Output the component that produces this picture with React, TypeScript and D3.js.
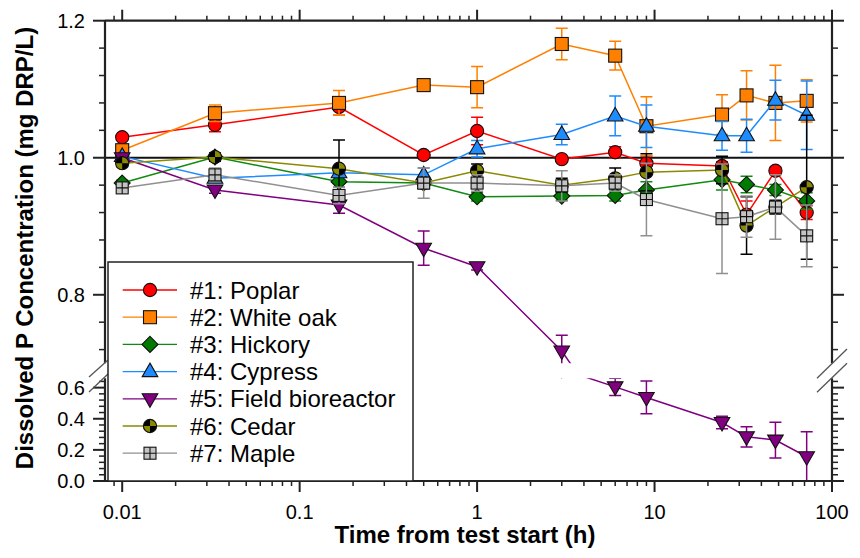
import React from 'react';
import * as d3 from 'd3';

// sampling times (h)
const times = [0.01, 1 / 30, 1 / 6, 0.5, 1, 3, 6, 9, 24, 33, 48, 72];

// mean concentrations (mg DRP/L) and error bars
const poplar = [1.03, 1.048, 1.074, 1.004, 1.039, 0.998, 1.008, 0.992, 0.988, 0.917, 0.981, 0.92];
const poplarErr = [0.004, 0.01, 0.012, 0.004, 0.02, 0.003, 0.008, 0.01, 0.006, 0.02, 0.005, 0.01];
const whiteOak = [1.011, 1.065, 1.08, 1.106, 1.103, 1.166, 1.149, 1.046, 1.063, 1.091, 1.08, 1.083];
const whiteOakErr = [0.004, 0.012, 0.018, 0.008, 0.03, 0.023, 0.021, 0.043, 0.029, 0.036, 0.055, 0.031];
const hickory = [0.963, 1.001, 0.965, 0.963, 0.943, 0.944, 0.945, 0.953, 0.968, 0.961, 0.953, 0.937];
const hickoryErr = [0.004, 0.006, 0.008, 0.008, 0.006, 0.006, 0.008, 0.012, 0.015, 0.012, 0.008, 0.012];
const cypress = [1.002, 0.97, 0.978, 0.975, 1.013, 1.034, 1.061, 1.046, 1.032, 1.032, 1.084, 1.062];
const cypressErr = [0.003, 0.005, 0.006, 0.01, 0.012, 0.015, 0.029, 0.031, 0.021, 0.024, 0.029, 0.05];
const fieldBio = [1.0, 0.953, 0.931, 0.868, 0.841, 0.718, 0.605, 0.537, 0.376, 0.284, 0.263, 0.156];
const fieldBioErr = [0.003, 0.005, 0.012, 0.025, 0.005, 0.023, 0.055, 0.105, 0.04, 0.065, 0.115, 0.16];
const cedar = [0.992, 1.001, 0.984, 0.963, 0.981, 0.96, 0.97, 0.979, 0.982, 0.901, 0.928, 0.957];
const cedarErr = [0.005, 0.006, 0.042, 0.008, 0.01, 0.01, 0.015, 0.027, 0.02, 0.042, 0.01, 0.105];
const maple = [0.956, 0.975, 0.945, 0.963, 0.963, 0.959, 0.963, 0.939, 0.911, 0.914, 0.928, 0.886];
const mapleErr = [0.004, 0.01, 0.012, 0.022, 0.012, 0.022, 0.012, 0.053, 0.08, 0.03, 0.047, 0.045];

const seriesNames = [
  '#1: Poplar',
  '#2: White oak',
  '#3: Hickory',
  '#4: Cypress',
  '#5: Field bioreactor',
  '#6: Cedar',
  '#7: Maple',
];

// axis ticks
const xMajor = [0.01, 0.1, 1, 10, 100];
const xLabels = ['0.01', '0.1', '1', '10', '100'];
const upperMajor = [0.8, 1.0, 1.2];
const upperLabels = ['0.8', '1.0', '1.2'];
const lowerMajor = [0, 0.2, 0.4, 0.6];
const lowerLabels = ['0.0', '0.2', '0.4', '0.6'];

const FONT = '"Liberation Sans", Arial, Helvetica, sans-serif';
const AXIS = '#222';

const series = [
  { name: seriesNames[0], values: poplar, errors: poplarErr, color: '#ff0000', errColor: '#ff0000', fill: '#ff0000', marker: 'circle' },
  { name: seriesNames[1], values: whiteOak, errors: whiteOakErr, color: '#ff8000', errColor: '#ff8000', fill: '#ff8000', marker: 'square' },
  { name: seriesNames[2], values: hickory, errors: hickoryErr, color: '#108a10', errColor: '#108a10', fill: '#007a00', marker: 'diamond' },
  { name: seriesNames[3], values: cypress, errors: cypressErr, color: '#1e8cff', errColor: '#1e8cff', fill: '#1e8cff', marker: 'triUp' },
  { name: seriesNames[4], values: fieldBio, errors: fieldBioErr, color: '#800080', errColor: '#800080', fill: '#800080', marker: 'triDown' },
  { name: seriesNames[5], values: cedar, errors: cedarErr, color: '#8a8a00', errColor: '#000000', fill: '#8a8a00', marker: 'quarter' },
  { name: seriesNames[6], values: maple, errors: mapleErr, color: '#909090', errColor: '#909090', fill: '#c4c4c4', marker: 'grid' },
];

// plot geometry
const left = 105;
const right = 832;
const top = 20.7;
const upperBottom = 363.3;
const lowerTop = 378.3;
const bottom = 481;

const x = d3.scaleLog().domain([0.008, 100]).range([left, right]);
const yUpper = d3.scaleLinear().domain([0.7, 1.2]).range([upperBottom, top]);
const yLower = d3.scaleLinear().domain([0, 0.66]).range([bottom, lowerTop]);

const xMinor = [0.009]
  .concat(...[0.01, 0.1, 1, 10].map((d) => d3.range(2, 10).map((k) => +(k * d).toPrecision(3))));
const upperMinor = d3.range(0.72, 1.2, 0.04).filter((v) => !upperMajor.some((m) => Math.abs(m - v) < 1e-6));
const lowerMinor = d3.range(0.04, 0.66, 0.04).filter((v) => !lowerMajor.some((m) => Math.abs(m - v) < 1e-6));

function Marker({ type, cx, cy, fill }) {
  const st = { stroke: '#111', strokeWidth: 1.1 };
  if (type === 'circle') return <circle cx={cx} cy={cy} r={6.6} fill={fill} {...st} />;
  if (type === 'square') return <rect x={cx - 6.5} y={cy - 6.5} width={13} height={13} fill={fill} {...st} />;
  if (type === 'diamond')
    return <path d={`M${cx},${cy - 8}L${cx + 8},${cy}L${cx},${cy + 8}L${cx - 8},${cy}Z`} fill={fill} {...st} />;
  if (type === 'triUp')
    return <path d={`M${cx},${cy - 8.5}L${cx + 7.8},${cy + 5}L${cx - 7.8},${cy + 5}Z`} fill={fill} {...st} />;
  if (type === 'triDown')
    return <path d={`M${cx},${cy + 8.5}L${cx + 7.8},${cy - 5}L${cx - 7.8},${cy - 5}Z`} fill={fill} {...st} />;
  if (type === 'quarter') {
    const r = 6.6;
    return (
      <g>
        <circle cx={cx} cy={cy} r={r} fill="#000" />
        <path d={`M${cx},${cy}L${cx + r},${cy}A${r},${r} 0 0 0 ${cx},${cy - r}Z`} fill={fill} />
        <path d={`M${cx},${cy}L${cx - r},${cy}A${r},${r} 0 0 0 ${cx},${cy + r}Z`} fill={fill} />
        <circle cx={cx} cy={cy} r={r} fill="none" {...st} />
      </g>
    );
  }
  // grid square (maple)
  return (
    <g>
      <rect x={cx - 6} y={cy - 6} width={12} height={12} fill={fill} {...st} />
      <path d={`M${cx},${cy - 6}V${cy + 6}M${cx - 6},${cy}H${cx + 6}`} stroke="#111" strokeWidth={1.1} />
    </g>
  );
}

function Panel({ y, clip }) {
  const line = d3
    .line()
    .x((_, i) => x(times[i]))
    .y((v) => y(v));
  return (
    <g clipPath={`url(#${clip})`}>
      {series.map((s, si) => (
        <g key={si}>
          <path d={line(s.values)} fill="none" stroke={s.color} strokeWidth={1.5} />
          {s.values.map((v, i) => {
            const cx = x(times[i]);
            const y0 = y(v - s.errors[i]);
            const y1 = y(v + s.errors[i]);
            return (
              <path
                key={i}
                d={`M${cx},${y0}V${y1}M${cx - 6},${y0}H${cx + 6}M${cx - 6},${y1}H${cx + 6}`}
                stroke={s.errColor}
                strokeWidth={1.5}
                fill="none"
              />
            );
          })}
          {s.values.map((v, i) => (
            <Marker key={i} type={s.marker} cx={x(times[i])} cy={y(v)} fill={s.fill} />
          ))}
        </g>
      ))}
    </g>
  );
}

function YTicks({ y, major, labels, minor }) {
  return (
    <g>
      {major.map((v, i) => (
        <g key={`M${i}`}>
          <line x1={left - 12} x2={left} y1={y(v)} y2={y(v)} stroke={AXIS} strokeWidth={2} />
          <line x1={right} x2={right + 12} y1={y(v)} y2={y(v)} stroke={AXIS} strokeWidth={2} />
          <text x={left - 20} y={y(v) + 7} textAnchor="end" fontSize={20}>
            {labels[i]}
          </text>
        </g>
      ))}
      {minor.map((v, i) => (
        <g key={`m${i}`}>
          <line x1={left - 6} x2={left} y1={y(v)} y2={y(v)} stroke={AXIS} strokeWidth={1.5} />
          <line x1={right} x2={right + 6} y1={y(v)} y2={y(v)} stroke={AXIS} strokeWidth={1.5} />
        </g>
      ))}
    </g>
  );
}

export default function App() {
  const legendX = 108;
  const legendY = 262;
  const rowY = (i) => 290 + i * 27.2;
  return (
    <svg
      width={860}
      height={558}
      style={{ position: 'absolute', left: 0, top: 0, background: '#fff' }}
      fontFamily={FONT}
    >
      <defs>
        <clipPath id="clip-upper">
          <rect x={left} y={top} width={right - left} height={upperBottom - top} />
        </clipPath>
        <clipPath id="clip-lower">
          <rect x={left} y={lowerTop} width={right - left} height={bottom - lowerTop} />
        </clipPath>
      </defs>
      <rect width={860} height={558} fill="#fff" />

      {/* reference line at 1.0 */}
      <line x1={left} x2={right} y1={yUpper(1)} y2={yUpper(1)} stroke="#111" strokeWidth={2} />

      <Panel y={yUpper} clip="clip-upper" />
      <Panel y={yLower} clip="clip-lower" />

      {/* frame */}
      <g stroke={AXIS} strokeWidth={2.2} fill="none">
        <line x1={left} x2={right} y1={top} y2={top} />
        <line x1={left} x2={right} y1={bottom} y2={bottom} />
        <line x1={left} x2={left} y1={top} y2={upperBottom} />
        <line x1={left} x2={left} y1={lowerTop} y2={bottom} />
        <line x1={right} x2={right} y1={top} y2={upperBottom} />
        <line x1={right} x2={right} y1={lowerTop} y2={bottom} />
      </g>

      {/* x ticks, top and bottom */}
      {xMajor.map((v, i) => (
        <g key={`xM${i}`}>
          <line x1={x(v)} x2={x(v)} y1={bottom} y2={bottom + 11} stroke={AXIS} strokeWidth={2} />
          <line x1={x(v)} x2={x(v)} y1={top} y2={top - 11} stroke={AXIS} strokeWidth={2} />
          <text x={x(v)} y={519} textAnchor="middle" fontSize={20}>
            {xLabels[i]}
          </text>
        </g>
      ))}
      {xMinor.map((v, i) => (
        <g key={`xm${i}`}>
          <line x1={x(v)} x2={x(v)} y1={bottom} y2={bottom + 5} stroke={AXIS} strokeWidth={1.5} />
          <line x1={x(v)} x2={x(v)} y1={top} y2={top - 5} stroke={AXIS} strokeWidth={1.5} />
        </g>
      ))}

      <YTicks y={yUpper} major={upperMajor} labels={upperLabels} minor={upperMinor} />
      <YTicks y={yLower} major={lowerMajor} labels={lowerLabels} minor={lowerMinor} />

      {/* axis break marks */}
      <g stroke="#555" strokeWidth={1.3}>
        <line x1={89} y1={377} x2={108} y2={360} />
        <line x1={89} y1={392} x2={108} y2={374} />
        <line x1={817} y1={378.3} x2={847} y2={349} />
        <line x1={817} y1={392.3} x2={847} y2={363.3} />
      </g>

      {/* legend */}
      <rect
        x={legendX}
        y={legendY}
        width={413 - legendX}
        height={bottom - legendY}
        fill="#fff"
        stroke={AXIS}
        strokeWidth={1.5}
      />
      {series.map((s, i) => (
        <g key={`lg${i}`}>
          <line x1={122.7} x2={177} y1={rowY(i)} y2={rowY(i)} stroke={s.color} strokeWidth={1.3} />
          <Marker type={s.marker} cx={150} cy={rowY(i)} fill={s.fill} />
          <text x={190} y={rowY(i) + 8.6} fontSize={24}>
            {s.name}
          </text>
        </g>
      ))}

      {/* axis titles */}
      <text x={465} y={543} textAnchor="middle" fontSize={24} fontWeight="bold">
        Time from test start (h)
      </text>
      <text transform="translate(33,248) rotate(-90)" textAnchor="middle" fontSize={24} fontWeight="bold">
        Dissolved P Concentration (mg DRP/L)
      </text>
    </svg>
  );
}
